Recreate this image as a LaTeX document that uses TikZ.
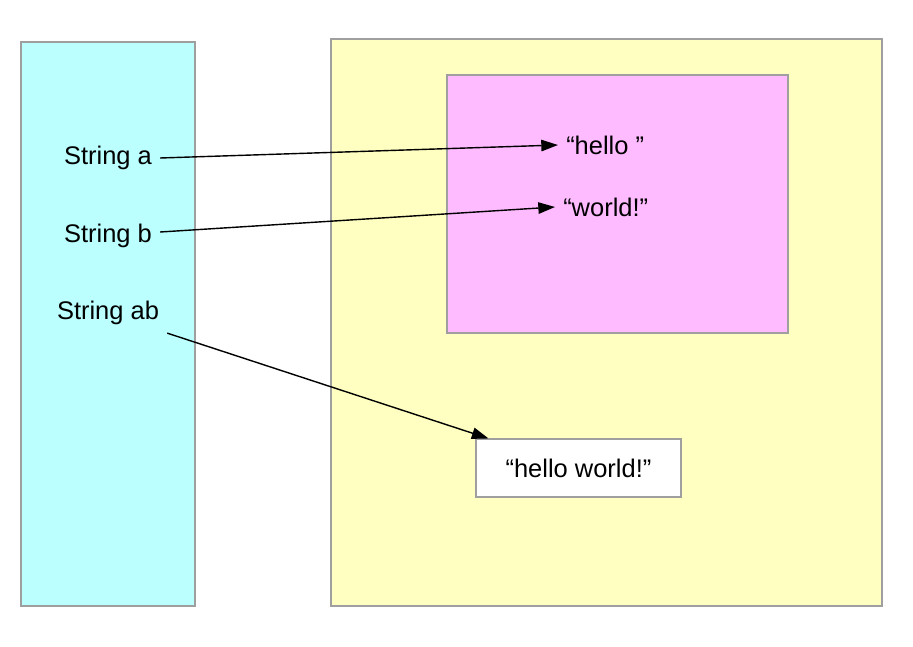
\documentclass[tikz,border=0pt]{standalone}
\usepackage{fontspec}
\setmainfont{Liberation Sans}
\usetikzlibrary{arrows.meta}

\definecolor{stackcyan}{HTML}{BBFFFF}
\definecolor{heapyellow}{HTML}{FFFFC2}
\definecolor{poolpink}{HTML}{FFBBFF}

\begin{document}
\begin{tikzpicture}[x=0.02cm, y=-0.02cm,
    region/.style={draw=gray!75, line width=0.6pt},
    label/.style={font=\fontsize{14.5}{16}\selectfont, inner sep=4.5pt},
    ref/.style={line width=0.8pt, -{Triangle[length=9.5pt, width=6.5pt]}}]
    \useasboundingbox (0,0) rectangle (913,646);
    % stack and heap
    \filldraw[region, fill=stackcyan] (21,42) rectangle (195,606);
    \filldraw[region, fill=heapyellow] (331,39) rectangle (882,606);
    \filldraw[region, fill=poolpink] (447,75) rectangle (788,333);
    % variables
    \node[label] (a) at (108,158) {String a};
    \node[label] (b) at (108,236) {String b};
    \node[label] (ab) at (108,313) {String ab};
    % objects
    \node[label, anchor=west] (h) at (558,145) {“hello ”};
    \node[label, anchor=west] (w) at (555,207) {“world!”};
    \node[label, region, fill=white, minimum width=205*0.02cm, minimum height=58*0.02cm] (hw) at (578.5,468) {“hello world!”};
    % references
    \draw[ref] (a.east) -- (h.west);
    \draw[ref] ([yshift=0.08cm]b.east) -- (w.west);
    \draw[ref] (ab.south east) -- (hw);
\end{tikzpicture}
\end{document}
